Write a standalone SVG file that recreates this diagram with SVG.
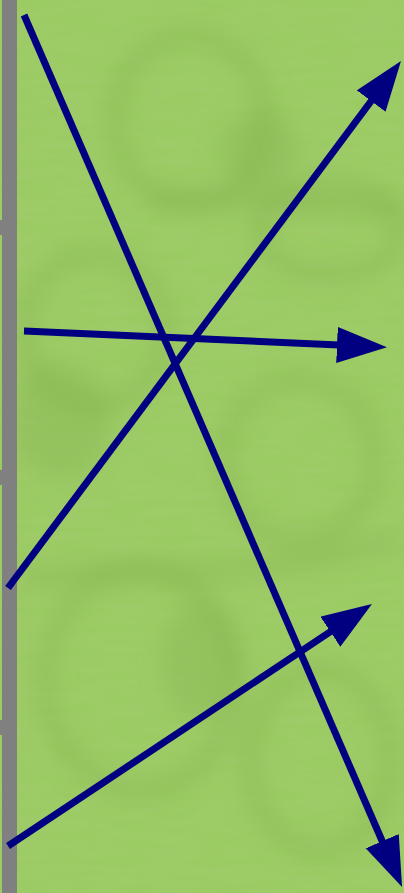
<svg xmlns="http://www.w3.org/2000/svg" width="404" height="893" viewBox="0 0 404 893">
  <style>
    .conn { stroke: #000080; stroke-width: 7; fill: none; marker-end: url(#head); }
    .strip { fill: #808080; }
    .blob { fill: none; stroke: #7fa845; stroke-opacity: 0.3; stroke-width: 20; }
    .patch { fill: #86b14c; fill-opacity: 0.35; }
  </style>
  <defs>
    <marker id="head" markerUnits="userSpaceOnUse" markerWidth="52" markerHeight="38" refX="2" refY="18" orient="auto">
      <path d="M0,0 L50,18 L0,36 Z" fill="#000080"/>
    </marker>
    <filter id="soft" x="-20%" y="-20%" width="140%" height="140%">
      <feGaussianBlur stdDeviation="11"/>
    </filter>
    <filter id="grain" x="0" y="0" width="100%" height="100%">
      <feTurbulence type="fractalNoise" baseFrequency="0.02 0.12" numOctaves="3" seed="4" result="n"/>
      <feColorMatrix in="n" type="matrix" values="0 0 0 0 0.45  0 0 0 0 0.62  0 0 0 0 0.25  0 0 0 0.5 -0.1"/>
    </filter>
  </defs>
  <g id="background">
    <rect x="0" y="0" width="404" height="893" fill="#9bcb63"/>
    <rect x="0" y="0" width="404" height="893" filter="url(#grain)" opacity="0.5"/>
    <g filter="url(#soft)">
      <ellipse class="patch" cx="60" cy="420" rx="50" ry="60"/>
      <ellipse class="patch" cx="200" cy="660" rx="40" ry="60"/>
      <ellipse class="patch" cx="260" cy="150" rx="40" ry="40"/>
      <ellipse class="blob" cx="190" cy="120" rx="75" ry="85"/>
      <ellipse class="blob" cx="330" cy="230" rx="70" ry="45"/>
      <ellipse class="blob" cx="95" cy="330" rx="70" ry="75"/>
      <ellipse class="blob" cx="300" cy="460" rx="75" ry="80"/>
      <ellipse class="blob" cx="140" cy="680" rx="95" ry="110"/>
      <ellipse class="blob" cx="320" cy="760" rx="70" ry="90"/>
      <path class="blob" d="M20,580 C120,560 220,590 400,540"/>
      <path class="blob" d="M150,200 C230,190 330,215 400,205"/>
    </g>
  </g>
  <g id="strip">
    <rect class="strip" x="2" y="0" width="15" height="893"/>
    <rect class="strip" x="0" y="220" width="17" height="15"/>
    <rect class="strip" x="0" y="470" width="17" height="15"/>
    <rect class="strip" x="0" y="720" width="17" height="15"/>
  </g>
  <g id="connectors">
    <line class="conn" x1="24" y1="15" x2="383" y2="843"/>
    <line class="conn" x1="8" y1="588" x2="372.3" y2="99.5"/>
    <line class="conn" x1="24" y1="331" x2="339" y2="345"/>
    <line class="conn" x1="8" y1="846" x2="332" y2="630.6"/>
  </g>
</svg>
